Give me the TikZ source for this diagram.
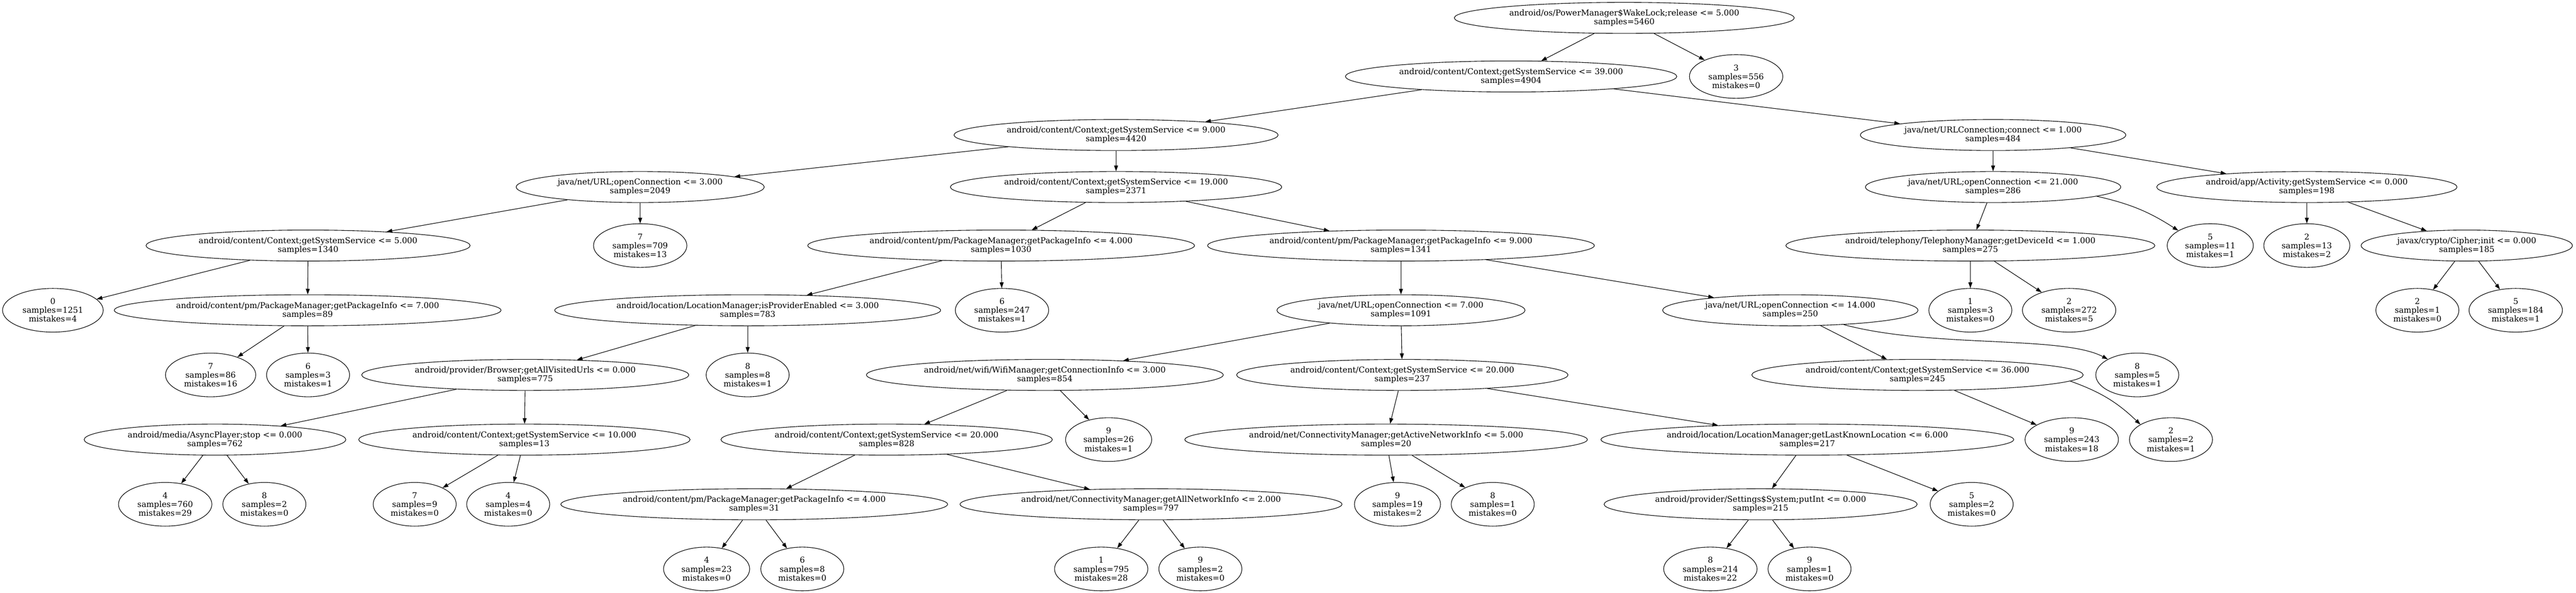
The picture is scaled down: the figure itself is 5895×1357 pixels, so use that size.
\documentclass[tikz,border=0pt]{standalone}
\usepackage{fontspec}
\newfontfamily\treefont{DejaVu Serif}
\usetikzlibrary{arrows.meta,shapes.geometric}
\begin{document}
\begin{tikzpicture}[x=1pt,y=1pt,>={Triangle[length=13pt,width=9pt]},
	split/.style={draw,ellipse,line width=1.3pt,inner xsep=12pt,inner ysep=0pt,minimum height=71pt,align=center,font={\treefont\fontsize{18.5}{20.1}\selectfont}},
	leaf/.style={split,minimum height=100pt}]
			\useasboundingbox (0,0) rectangle (5895,1357);
			\node	(n0) at (3717,1316) [split] {android/os/PowerManager\$WakeLock;release <= 5.000\\samples=5460};
			\node	(n1) at (3458,1182) [split] {android/content/Context;getSystemService <= 39.000\\samples=4904};
			\node	(l0) at (3973,1182) [leaf] {3\\samples=556\\mistakes=0};
			\node	(n2) at (2554,1048) [split] {android/content/Context;getSystemService <= 9.000\\samples=4420};
			\node	(n3) at (4561,1048) [split] {java/net/URLConnection;connect <= 1.000\\samples=484};
			\node	(n4) at (1465,929) [split] {java/net/URL;openConnection <= 3.000\\samples=2049};
			\node	(n5) at (2554,929) [split] {android/content/Context;getSystemService <= 19.000\\samples=2371};
			\node	(n6) at (4561,929) [split] {java/net/URL;openConnection <= 21.000\\samples=286};
			\node	(n7) at (5279,929) [split] {android/app/Activity;getSystemService <= 0.000\\samples=198};
			\node	(n8) at (705,795) [split] {android/content/Context;getSystemService <= 5.000\\samples=1340};
			\node	(l1) at (1465,795) [leaf] {7\\samples=709\\mistakes=13};
			\node	(n9) at (2291,795) [split] {android/content/pm/PackageManager;getPackageInfo <= 4.000\\samples=1030};
			\node	(n10) at (3206,795) [split] {android/content/pm/PackageManager;getPackageInfo <= 9.000\\samples=1341};
			\node	(n11) at (4509,795) [split] {android/telephony/TelephonyManager;getDeviceId <= 1.000\\samples=275};
			\node	(l2) at (5058,795) [leaf] {5\\samples=11\\mistakes=1};
			\node	(l3) at (5279,795) [leaf] {2\\samples=13\\mistakes=2};
			\node	(n12) at (5645,795) [split] {javax/crypto/Cipher;init <= 0.000\\samples=185};
			\node	(l4) at (121,647) [leaf] {0\\samples=1251\\mistakes=4};
			\node	(n13) at (704,647) [split] {android/content/pm/PackageManager;getPackageInfo <= 7.000\\samples=89};
			\node	(n14) at (1711,647) [split] {android/location/LocationManager;isProviderEnabled <= 3.000\\samples=783};
			\node	(l5) at (2293,647) [leaf] {6\\samples=247\\mistakes=1};
			\node	(n15) at (3206,647) [split] {java/net/URL;openConnection <= 7.000\\samples=1091};
			\node	(n16) at (4097,647) [split] {java/net/URL;openConnection <= 14.000\\samples=250};
			\node	(l6) at (4509,647) [leaf] {1\\samples=3\\mistakes=0};
			\node	(l7) at (4735,647) [leaf] {2\\samples=272\\mistakes=5};
			\node	(l8) at (5532,647) [leaf] {2\\samples=1\\mistakes=0};
			\node	(l9) at (5757,647) [leaf] {5\\samples=184\\mistakes=1};
			\node	(l10) at (482,499) [leaf] {7\\samples=86\\mistakes=16};
			\node	(l11) at (705,499) [leaf] {6\\samples=3\\mistakes=1};
			\node	(n17) at (1202,499) [split] {android/provider/Browser;getAllVisitedUrls <= 0.000\\samples=775};
			\node	(l12) at (1711,499) [leaf] {8\\samples=8\\mistakes=1};
			\node	(n18) at (2391,499) [split] {android/net/wifi/WifiManager;getConnectionInfo <= 3.000\\samples=854};
			\node	(n19) at (3209,499) [split] {android/content/Context;getSystemService <= 20.000\\samples=237};
			\node	(n20) at (4388,499) [split] {android/content/Context;getSystemService <= 36.000\\samples=245};
			\node	(l13) at (4891,499) [leaf] {8\\samples=5\\mistakes=1};
			\node	(n21) at (492,351) [split] {android/media/AsyncPlayer;stop <= 0.000\\samples=762};
			\node	(n22) at (1200,351) [split] {android/content/Context;getSystemService <= 10.000\\samples=13};
			\node	(n23) at (2029,351) [split] {android/content/Context;getSystemService <= 20.000\\samples=828};
			\node	(l14) at (2537,351) [leaf] {9\\samples=26\\mistakes=1};
			\node	(n24) at (3172,351) [split] {android/net/ConnectivityManager;getActiveNetworkInfo <= 5.000\\samples=20};
			\node	(n25) at (4136,351) [split] {android/location/LocationManager;getLastKnownLocation <= 6.000\\samples=217};
			\node	(l15) at (4741,351) [leaf] {9\\samples=243\\mistakes=18};
			\node	(l16) at (4968,351) [leaf] {2\\samples=2\\mistakes=1};
			\node	(l17) at (378,203) [leaf] {4\\samples=760\\mistakes=29};
			\node	(l18) at (605,203) [leaf] {8\\samples=2\\mistakes=0};
			\node	(l19) at (949,203) [leaf] {7\\samples=9\\mistakes=0};
			\node	(l20) at (1163,203) [leaf] {4\\samples=4\\mistakes=0};
			\node	(n26) at (1726,203) [split] {android/content/pm/PackageManager;getPackageInfo <= 4.000\\samples=31};
			\node	(n27) at (2634,203) [split] {android/net/ConnectivityManager;getAllNetworkInfo <= 2.000\\samples=797};
			\node	(l21) at (3198,203) [leaf] {9\\samples=19\\mistakes=2};
			\node	(l22) at (3416,203) [leaf] {8\\samples=1\\mistakes=0};
			\node	(n28) at (4029,203) [split] {android/provider/Settings\$System;putInt <= 0.000\\samples=215};
			\node	(l23) at (4512,203) [leaf] {5\\samples=2\\mistakes=0};
			\node	(l24) at (1617,55) [leaf] {4\\samples=23\\mistakes=0};
			\node	(l25) at (1836,55) [leaf] {6\\samples=8\\mistakes=0};
			\node	(l26) at (2520,55) [leaf] {1\\samples=795\\mistakes=28};
			\node	(l27) at (2747,55) [leaf] {9\\samples=2\\mistakes=0};
			\node	(l28) at (3914,55) [leaf] {8\\samples=214\\mistakes=22};
			\node	(l29) at (4141,55) [leaf] {9\\samples=1\\mistakes=0};
			\draw[line width=1.3pt]
			(n0) edge[->] (n1)
			(n0) edge[->] (l0)
			(n1) edge[->] (n2)
			(n1) edge[->] (n3)
			(n2) edge[->] (n4)
			(n2) edge[->] (n5)
			(n3) edge[->] (n6)
			(n3) edge[->] (n7)
			(n4) edge[->] (n8)
			(n4) edge[->] (l1)
			(n5) edge[->] (n9)
			(n5) edge[->] (n10)
			(n6) edge[->] (n11)
			(n6) edge[->, bend left=10] (l2)
			(n7) edge[->] (l3)
			(n7) edge[->] (n12)
			(n8) edge[->] (l4)
			(n8) edge[->] (n13)
			(n9) edge[->] (n14)
			(n9) edge[->] (l5)
			(n10) edge[->] (n15)
			(n10) edge[->] (n16)
			(n11) edge[->] (l6)
			(n11) edge[->] (l7)
			(n12) edge[->] (l8)
			(n12) edge[->] (l9)
			(n13) edge[->] (l10)
			(n13) edge[->] (l11)
			(n14) edge[->] (n17)
			(n14) edge[->] (l12)
			(n15) edge[->] (n18)
			(n15) edge[->] (n19)
			(n16) edge[->] (n20)
			(n17) edge[->] (n21)
			(n17) edge[->] (n22)
			(n18) edge[->] (n23)
			(n18) edge[->] (l14)
			(n19) edge[->] (n24)
			(n19) edge[->] (n25)
			(n20) edge[->] (l15)
			(n20) edge[->, bend left=12] (l16)
			(n21) edge[->] (l17)
			(n21) edge[->] (l18)
			(n22) edge[->] (l19)
			(n22) edge[->] (l20)
			(n23) edge[->] (n26)
			(n23) edge[->] (n27)
			(n24) edge[->] (l21)
			(n24) edge[->] (l22)
			(n25) edge[->] (n28)
			(n25) edge[->] (l23)
			(n26) edge[->] (l24)
			(n26) edge[->] (l25)
			(n27) edge[->] (l26)
			(n27) edge[->] (l27)
			(n28) edge[->] (l28)
			(n28) edge[->] (l29)
			;
			\draw[->, line width=1.3pt] (n16) .. controls (4420,560) and (4720,590) .. (l13);
		\end{tikzpicture}
\end{document}
